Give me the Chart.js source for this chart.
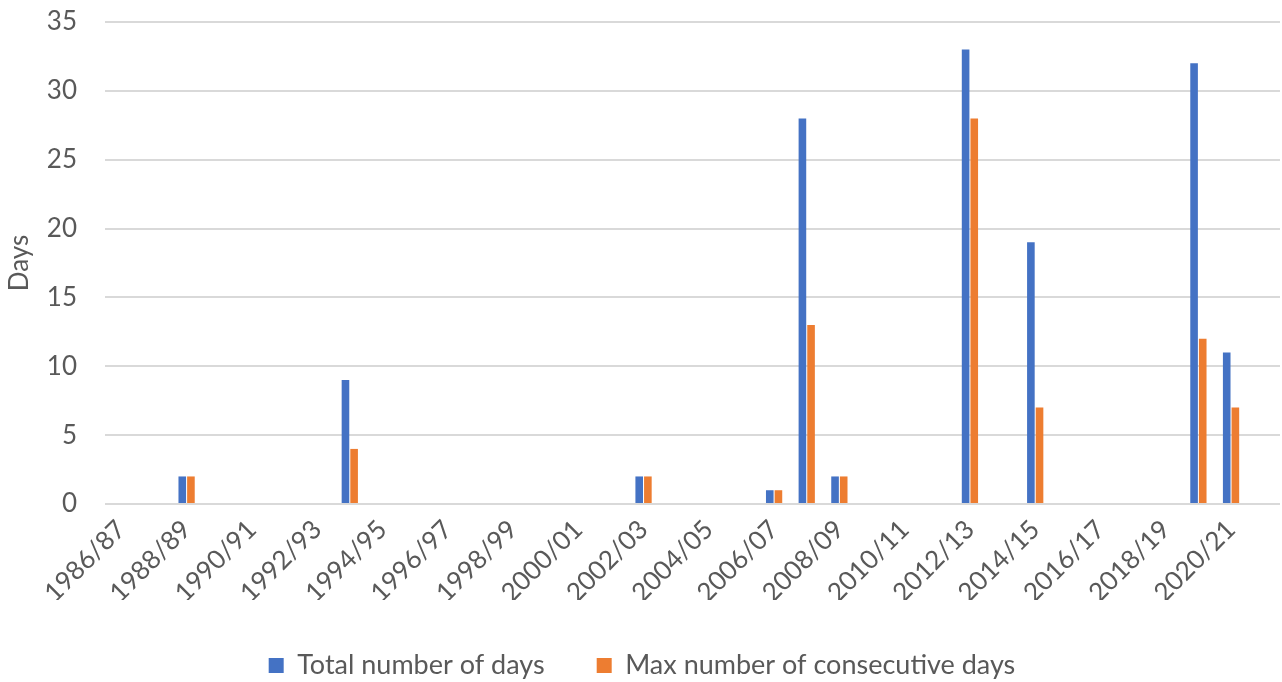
<!DOCTYPE html>
<html>
<head>
<meta charset="utf-8">
<script src="https://cdn.jsdelivr.net/npm/chart.js@4"></script>
<style>
  html, body { margin: 0; padding: 0; background: #fff; }
  #wrap { width: 1282px; height: 682px; }
</style>
</head>
<body>
<div id="wrap"><canvas id="daysChart" width="1282" height="682"></canvas></div>
<script>
"use strict";

const seasons = [
  "1986/87", "1987/88", "1988/89", "1989/90", "1990/91", "1991/92", "1992/93", "1993/94",
  "1994/95", "1995/96", "1996/97", "1997/98", "1998/99", "1999/00", "2000/01", "2001/02",
  "2002/03", "2003/04", "2004/05", "2005/06", "2006/07", "2007/08", "2008/09", "2009/10",
  "2010/11", "2011/12", "2012/13", "2013/14", "2014/15", "2015/16", "2016/17", "2017/18",
  "2018/19", "2019/20", "2020/21", "2021/22"
];

const totalDays = [
  0, 0, 2, 0, 0, 0, 0, 9,
  0, 0, 0, 0, 0, 0, 0, 0,
  2, 0, 0, 0, 1, 28, 2, 0,
  0, 0, 33, 0, 19, 0, 0, 0,
  0, 32, 11, 0
];

const maxConsecutive = [
  0, 0, 2, 0, 0, 0, 0, 4,
  0, 0, 0, 0, 0, 0, 0, 0,
  2, 0, 0, 0, 1, 13, 2, 0,
  0, 0, 28, 0, 7, 0, 0, 0,
  0, 12, 7, 0
];

const FONT = "Lato, 'Open Sans', sans-serif";
const TEXT = "#595959";

const ctx = document.getElementById("daysChart").getContext("2d");

const chart = new Chart(ctx, {
  type: "bar",
  data: {
    labels: seasons,
    datasets: [
      {
        label: "Total number of days",
        data: totalDays,
        backgroundColor: "#4472C4",
        categoryPercentage: 0.53,
        barPercentage: 0.88
      },
      {
        label: "Max number of consecutive days",
        data: maxConsecutive,
        backgroundColor: "#ED7D31",
        categoryPercentage: 0.53,
        barPercentage: 0.88
      }
    ]
  },
  options: {
    responsive: false,
    animation: false,
    layout: { padding: { top: 22, right: 2, left: 4, bottom: -7 } },
    plugins: {
      legend: {
        position: "bottom",
        labels: {
          color: TEXT,
          font: { family: FONT, size: 27 },
          boxWidth: 15,
          boxHeight: 15,
          padding: 52
        }
      },
      tooltip: { enabled: false }
    },
    scales: {
      x: {
        grid: { display: false },
        border: { display: false },
        ticks: {
          color: TEXT,
          font: { family: FONT, size: 26 },
          autoSkip: false,
          maxRotation: 45,
          minRotation: 45,
          padding: 2,
          callback: function (value, index) {
            return index % 2 === 0 ? seasons[index] : "";
          }
        },
        afterFit: function (scale) {
          scale.height = 96;
          scale.paddingRight = 0;
        }
      },
      y: {
        min: 0,
        max: 35,
        ticks: {
          stepSize: 5,
          color: TEXT,
          font: { family: FONT, size: 26 },
          padding: 0
        },
        grid: {
          color: "#D9D9D9",
          lineWidth: 2,
          drawTicks: true,
          tickLength: 28,
          tickColor: "rgba(0,0,0,0)"
        },
        border: { display: false },
        title: {
          display: true,
          text: "Days",
          color: TEXT,
          font: { family: FONT, size: 26 },
          padding: { top: 0, bottom: 4 }
        },
        afterFit: function (scale) { scale.width = 101; }
      }
    }
  }
});
</script>
</body>
</html>
